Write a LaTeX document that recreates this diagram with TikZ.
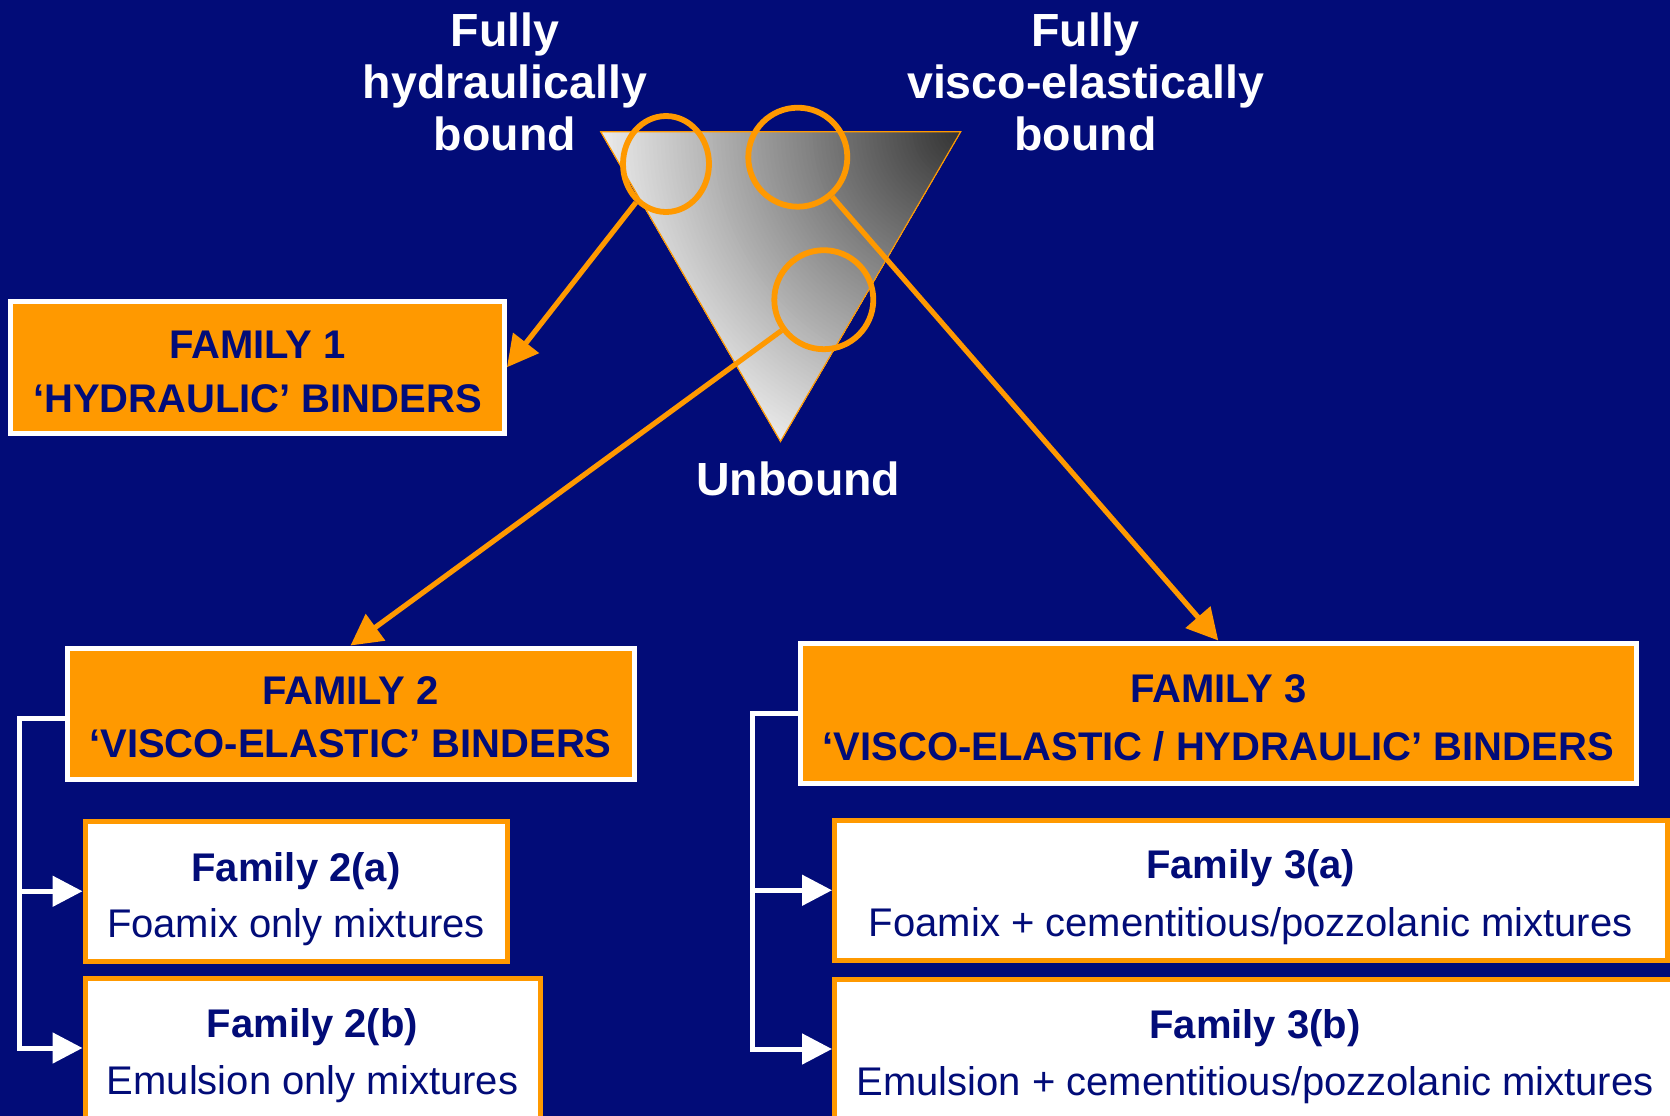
\documentclass[tikz,border=0pt]{standalone}
\usepackage{fontspec}
\setmainfont{Liberation Sans}
\usetikzlibrary{arrows.meta,shapes.geometric}
\definecolor{navy}{HTML}{020C78}
\definecolor{amber}{HTML}{FF9900}

\begin{document}
\begin{tikzpicture}[x=1pt,y=-1pt,
  headbox/.style={draw=white, fill=amber, line width=5pt, inner sep=0pt},
  subbox/.style={draw=amber, fill=white, line width=5pt, inner sep=0pt},
  ring/.style={draw=amber, line width=5.8pt, inner sep=0pt},
  headtext/.style={text=navy, font=\fontsize{40}{48}\selectfont\bfseries, anchor=base, inner sep=0pt},
  bodytext/.style={text=navy, font=\fontsize{40}{48}\selectfont, anchor=base, inner sep=0pt},
  toptext/.style={text=white, font=\fontsize{46.5}{52}\selectfont\bfseries, anchor=base, inner sep=0pt},
  pointer/.style={draw=amber, line width=5.2pt, -{Triangle[length=31pt,width=32pt]}},
  feed/.style={draw=white, line width=5pt, line join=miter},
  feedarrow/.style={feed, -{Triangle[length=30pt,width=30pt]}}
]
\useasboundingbox (0,0) rectangle (1670,1116);
\clip (0,0) rectangle (1670,1116);
\fill[navy] (0,0) rectangle (1670,1116);

% binder triangle with radial grey shading from the top-right corner
\coordinate (TL) at (600.7,131.7);
\coordinate (TR) at (960.7,131.7);
\coordinate (BT) at (780.5,441.5);
\begin{scope}
  \clip (TL) -- (TR) -- (BT) -- cycle;
  \foreach \r in {400,396,...,4} {
    \pgfmathsetmacro\g{min(0.93,0.2+0.002*\r)}
    \definecolor{ringgrey}{gray}{\g}
    \fill[ringgrey] (TR) circle[radius=\r];
  }
\end{scope}
\draw[amber, line width=1.2pt, line join=miter] (TL) -- (TR) -- (BT) -- cycle;

% corner labels
\node[toptext] (hyA) at (505,46.7) {Fully};
\node[toptext] (hyB) at (505,98.3) {hydraulically};
\node[toptext] (hyC) at (505,150) {bound};
\node[toptext] (veA) at (1085.5,46.7) {Fully};
\node[toptext] (veB) at (1085.5,98.3) {visco-elastically};
\node[toptext] (veC) at (1085.5,150) {bound};
\node[toptext] (unb) at (798.3,495) {Unbound};

% highlight rings
\node[ring, ellipse, minimum width=86pt, minimum height=96pt] (cA) at (666,164) {};
\node[ring, circle, minimum size=99pt] (cB) at (797.8,157.2) {};
\node[ring, circle, minimum size=99pt] (cC) at (823.8,299.7) {};

% family boxes
\node[headbox, minimum width=494pt, minimum height=131.5pt] (f1) at (257.5,367.25) {};
\node[headtext] (f1a) at (257.5,358) {FAMILY 1};
\node[headtext] (f1b) at (257.5,412) {‘HYDRAULIC’ BINDERS};

\node[headbox, minimum width=567pt, minimum height=131.5pt] (f2) at (350.5,713.75) {};
\node[headtext] (f2t) at (350.5,704) {FAMILY 2};
\node[headtext] (f2u) at (350.5,757) {‘VISCO-ELASTIC’ BINDERS};

\node[headbox, minimum width=835.5pt, minimum height=140pt] (f3) at (1218.25,713) {};
\node[headtext] (f3t) at (1218.25,702) {FAMILY 3};
\node[headtext] (f3u) at (1218.25,760) {‘VISCO-ELASTIC / HYDRAULIC’ BINDERS};

\node[subbox, minimum width=422pt, minimum height=140.5pt] (f2a) at (296,891.25) {};
\node[headtext] (f2at) at (296,881) {Family 2(a)};
\node[bodytext] (f2au) at (296,937) {Foamix only mixtures};

\node[subbox, minimum width=455pt, minimum height=162pt] (f2b) at (312.5,1059) {};
\node[headtext] (f2bt) at (312.5,1037) {Family 2(b)};
\node[bodytext] (f2bu) at (312.5,1094) {Emulsion only mixtures};

\node[subbox, minimum width=832.5pt, minimum height=140.5pt] (f3a) at (1250.75,890.25) {};
\node[headtext] (f3at) at (1250.75,878) {Family 3(a)};
\node[bodytext] (f3au) at (1250.75,936) {Foamix + cementitious/pozzolanic mixtures};

\node[subbox, minimum width=865.5pt, minimum height=160.3pt] (f3b) at (1267.25,1059.85) {};
\node[headtext] (f3bt) at (1255,1038) {Family 3(b)};
\node[bodytext] (f3bu) at (1255,1095) {Emulsion + cementitious/pozzolanic mixtures};

% pointers from the rings to the families
\draw[pointer] (cA) -- (f1.east);
\draw[pointer] (cC) -- (f2.north);
\draw[pointer] (cB) -- (f3.north);

% sub-family brackets
\coordinate (b2) at (19,718);
\coordinate (j2b) at (19,1048);
\draw[feedarrow] (f2.west |- b2) -- (b2) -- (j2b) -- (f2b.west |- j2b);
\draw[feedarrow] (b2 |- f2a.west) -- (f2a.west);

\coordinate (b3) at (752,713);
\coordinate (j3b) at (752,1049);
\draw[feedarrow] (f3.west |- b3) -- (b3) -- (j3b) -- (f3b.west |- j3b);
\draw[feedarrow] (b3 |- f3a.west) -- (f3a.west);
\end{tikzpicture}
\end{document}
